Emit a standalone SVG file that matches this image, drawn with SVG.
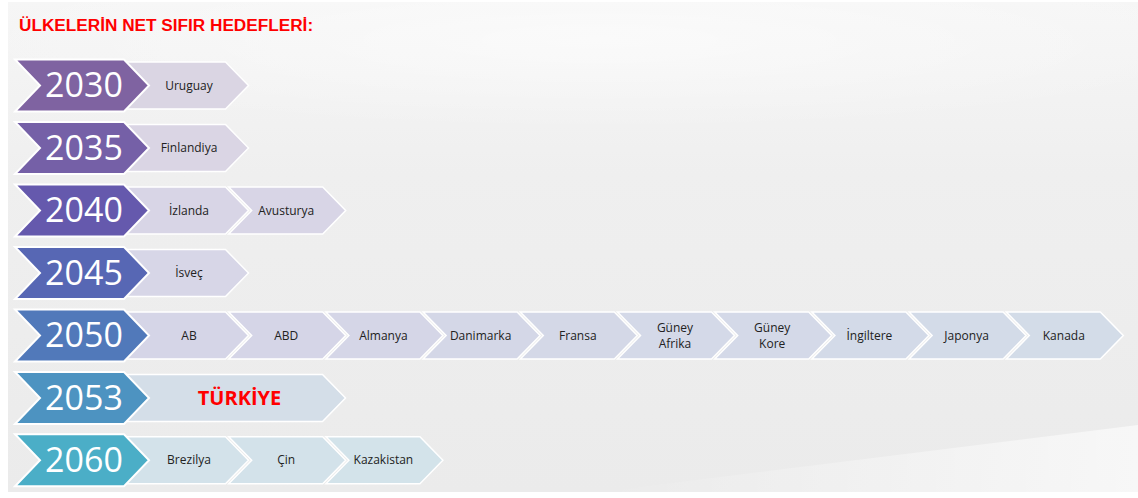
<svg xmlns="http://www.w3.org/2000/svg" xmlns:xlink="http://www.w3.org/1999/xlink" width="1138" height="498" viewBox="0 0 1138 498">
  <style>
    .yr { stroke: #ffffff; stroke-width: 2; stroke-linejoin: miter; }
    .ch { stroke: #ffffff; stroke-width: 1.5; stroke-linejoin: miter; }
    .yt { font-family: "Open Sans", "DejaVu Sans", sans-serif; font-size: 34px; fill: #ffffff; text-anchor: middle; }
    .ct { font-family: "Open Sans", "DejaVu Sans", sans-serif; font-size: 12px; fill: #222222; text-anchor: middle; }
    .title { font-family: "Liberation Sans", Arial, sans-serif; font-size: 17.2px; font-weight: bold; fill: #ff0000; }
    .tr { font-family: "Open Sans", "DejaVu Sans", sans-serif; font-size: 20px; font-weight: bold; fill: #ff0000; text-anchor: middle; }
  </style>
  <defs>
    <linearGradient id="bg" x1="0" y1="0" x2="0" y2="1">
      <stop offset="0" stop-color="#f6f6f6"/>
      <stop offset="0.35" stop-color="#efefef"/>
      <stop offset="1" stop-color="#ebebeb"/>
    </linearGradient>
    <linearGradient id="sw" x1="0" y1="0" x2="1" y2="0">
      <stop offset="0" stop-color="#ffffff" stop-opacity="0"/>
      <stop offset="1" stop-color="#ffffff" stop-opacity="0.6"/>
    </linearGradient>
    <radialGradient id="glow" cx="0.5" cy="0.5" r="0.5">
      <stop offset="0" stop-color="#ffffff" stop-opacity="0.55"/>
      <stop offset="1" stop-color="#ffffff" stop-opacity="0"/>
    </radialGradient>
    <polygon id="yshape" points="15,-26 124,-26 149,0 124,26 15,26 40,0"/>
    <polygon id="c0" points="-20,-23.5 94,-23.5 117,0 94,23.5 -20,23.5"/>
    <polygon id="c1" points="0,-23.5 94,-23.5 117,0 94,23.5 0,23.5 23,0"/>
    <polygon id="cwide" points="-20,-23.5 191,-23.5 214,0 191,23.5 -20,23.5"/>
  </defs>

  <rect x="0" y="0" width="1138" height="498" fill="#ffffff"/>
  <rect x="8" y="2" width="1130" height="490" fill="url(#bg)"/>
  <ellipse cx="600" cy="40" rx="650" ry="90" fill="url(#glow)"/>
  <polygon points="600,492 1138,425 1138,492" fill="url(#sw)"/>

  <text class="title" x="19" y="31">ÜLKELERİN NET SIFIR HEDEFLERİ:</text>

  <g id="connectors"/>

  <!-- 2030 -->
  <g id="row-2030" transform="translate(0,85.5)">
    <g id="n-uruguay" transform="translate(131.5,0)">
      <use xlink:href="#c0" class="ch" fill="#dad5e3"/>
      <text class="ct" x="57.5" y="4">Uruguay</text>
    </g>
    <g id="y-2030">
      <use xlink:href="#yshape" class="yr" fill="#7f63a1"/>
      <text class="yt" x="84" y="11.5">2030</text>
    </g>
  </g>

  <!-- 2035 -->
  <g id="row-2035" transform="translate(0,148)">
    <g id="n-finlandiya" transform="translate(131.5,0)">
      <use xlink:href="#c0" class="ch" fill="#dad5e4"/>
      <text class="ct" x="57.5" y="4">Finlandiya</text>
    </g>
    <g id="y-2035">
      <use xlink:href="#yshape" class="yr" fill="#7560a7"/>
      <text class="yt" x="84" y="11.5">2035</text>
    </g>
  </g>

  <!-- 2040 -->
  <g id="row-2040" transform="translate(0,210.5)">
    <g id="n-izlanda" transform="translate(131.5,0)">
      <use xlink:href="#c0" class="ch" fill="#d8d5e6"/>
      <text class="ct" x="57.5" y="4">İzlanda</text>
    </g>
    <g id="n-avusturya" transform="translate(228.7,0)">
      <use xlink:href="#c1" class="ch" fill="#d8d5e6"/>
      <text class="ct" x="57.5" y="4">Avusturya</text>
    </g>
    <g id="y-2040">
      <use xlink:href="#yshape" class="yr" fill="#6559ad"/>
      <text class="yt" x="84" y="11.5">2040</text>
    </g>
  </g>

  <!-- 2045 -->
  <g id="row-2045" transform="translate(0,273)">
    <g id="n-isvec" transform="translate(131.5,0)">
      <use xlink:href="#c0" class="ch" fill="#d7d6e7"/>
      <text class="ct" x="57.5" y="4">İsveç</text>
    </g>
    <g id="y-2045">
      <use xlink:href="#yshape" class="yr" fill="#5767b4"/>
      <text class="yt" x="84" y="11.5">2045</text>
    </g>
  </g>

  <!-- 2050 -->
  <g id="row-2050" transform="translate(0,335.5)">
    <g id="n-ab" transform="translate(131.5,0)">
      <use xlink:href="#c0" class="ch" fill="#d5d5e7"/>
      <text class="ct" x="57.5" y="4">AB</text>
    </g>
    <g id="n-abd" transform="translate(228.7,0)">
      <use xlink:href="#c1" class="ch" fill="#d5d5e7"/>
      <text class="ct" x="57.5" y="4">ABD</text>
    </g>
    <g id="n-almanya" transform="translate(325.9,0)">
      <use xlink:href="#c1" class="ch" fill="#d5d6e7"/>
      <text class="ct" x="57.5" y="4">Almanya</text>
    </g>
    <g id="n-danimarka" transform="translate(423.1,0)">
      <use xlink:href="#c1" class="ch" fill="#d4d7e7"/>
      <text class="ct" x="57.5" y="4">Danimarka</text>
    </g>
    <g id="n-fransa" transform="translate(520.3,0)">
      <use xlink:href="#c1" class="ch" fill="#d4d8e7"/>
      <text class="ct" x="57.5" y="4">Fransa</text>
    </g>
    <g id="n-guney-afrika" transform="translate(617.5,0)">
      <use xlink:href="#c1" class="ch" fill="#d4d9e8"/>
      <text class="ct" x="57.5" y="-4">Güney</text>
      <text class="ct" x="57.5" y="12">Afrika</text>
    </g>
    <g id="n-guney-kore" transform="translate(714.7,0)">
      <use xlink:href="#c1" class="ch" fill="#d4d9e8"/>
      <text class="ct" x="57.5" y="-4">Güney</text>
      <text class="ct" x="57.5" y="12">Kore</text>
    </g>
    <g id="n-ingiltere" transform="translate(811.9,0)">
      <use xlink:href="#c1" class="ch" fill="#d3dae8"/>
      <text class="ct" x="57.5" y="4">İngiltere</text>
    </g>
    <g id="n-japonya" transform="translate(909.1,0)">
      <use xlink:href="#c1" class="ch" fill="#d3dbe8"/>
      <text class="ct" x="57.5" y="4">Japonya</text>
    </g>
    <g id="n-kanada" transform="translate(1006.3,0)">
      <use xlink:href="#c1" class="ch" fill="#d3dce8"/>
      <text class="ct" x="57.5" y="4">Kanada</text>
    </g>
    <g id="y-2050">
      <use xlink:href="#yshape" class="yr" fill="#5179ba"/>
      <text class="yt" x="84" y="11.5">2050</text>
    </g>
  </g>

  <!-- 2053 -->
  <g id="row-2053" transform="translate(0,398)">
    <g id="n-turkiye" transform="translate(131.5,0)">
      <use xlink:href="#cwide" class="ch" fill="#d4dee8"/>
      <text class="tr" x="108" y="7">TÜRKİYE</text>
    </g>
    <g id="y-2053">
      <use xlink:href="#yshape" class="yr" fill="#4d93c1"/>
      <text class="yt" x="84" y="11.5">2053</text>
    </g>
  </g>

  <!-- 2060 -->
  <g id="row-2060" transform="translate(0,460.3)">
    <g id="n-brezilya" transform="translate(131.5,0)">
      <use xlink:href="#c0" class="ch" fill="#d3e2ea"/>
      <text class="ct" x="57.5" y="4">Brezilya</text>
    </g>
    <g id="n-cin" transform="translate(228.7,0)">
      <use xlink:href="#c1" class="ch" fill="#d3e2ea"/>
      <text class="ct" x="57.5" y="4">Çin</text>
    </g>
    <g id="n-kazakistan" transform="translate(325.9,0)">
      <use xlink:href="#c1" class="ch" fill="#d3e3ea"/>
      <text class="ct" x="57.5" y="4">Kazakistan</text>
    </g>
    <g id="y-2060">
      <use xlink:href="#yshape" class="yr" fill="#4baec7"/>
      <text class="yt" x="84" y="11.5">2060</text>
    </g>
  </g>
</svg>
